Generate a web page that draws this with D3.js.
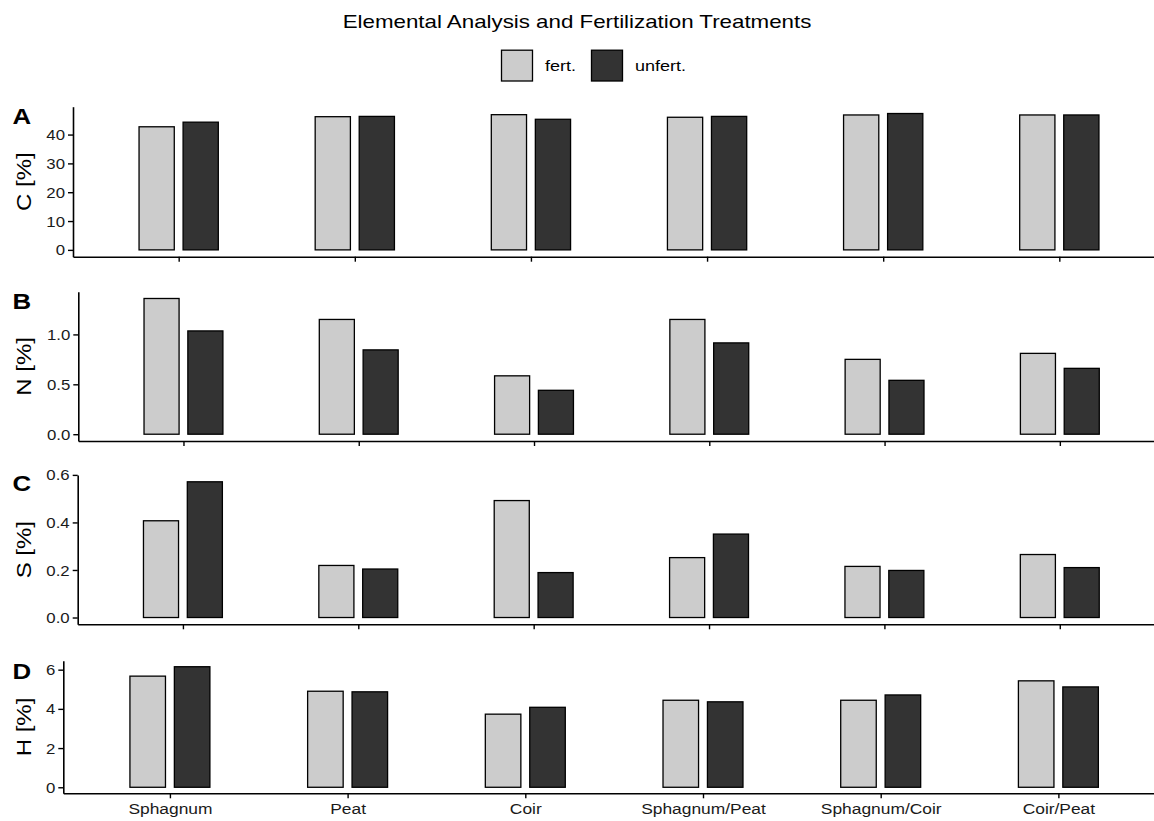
<!DOCTYPE html>
<html>
<head>
<meta charset="utf-8">
<script src="https://cdn.jsdelivr.net/npm/d3@7"></script>
<style>
  html, body { margin: 0; padding: 0; background: #fff; }
  svg { display: block; font-family: "Liberation Sans", Arial, Helvetica, sans-serif; }
</style>
</head>
<body>
<svg id="chart" width="1154" height="821"></svg>
<script>
// ---- data ----
const categories = ["Sphagnum", "Peat", "Coir", "Sphagnum/Peat", "Sphagnum/Coir", "Coir/Peat"];
const treatments = ["fert.", "unfert."];

const carbonFert     = [42.7, 46.2, 46.9, 46.0, 46.8, 46.8];
const carbonUnfert   = [44.3, 46.3, 45.3, 46.3, 47.3, 46.8];
const nitrogenFert   = [1.36, 1.15, 0.585, 1.15, 0.75, 0.81];
const nitrogenUnfert = [1.035, 0.845, 0.44, 0.915, 0.54, 0.66];
const sulfurFert     = [0.407, 0.219, 0.492, 0.252, 0.215, 0.265];
const sulfurUnfert   = [0.571, 0.204, 0.189, 0.351, 0.198, 0.21];
const hydrogenFert   = [5.67, 4.90, 3.73, 4.44, 4.44, 5.43];
const hydrogenUnfert = [6.15, 4.87, 4.08, 4.36, 4.71, 5.12];

const carbonTicks   = [0, 10, 20, 30, 40];
const nitrogenTicks = [0, 0.5, 1.0];
const sulfurTicks   = [0, 0.2, 0.4, 0.6];
const hydrogenTicks = [0, 2, 4, 6];

const chartTitle = "Elemental Analysis and Fertilization Treatments";

// ---- styling / layout ----
const fillColors = { "fert.": "#cccccc", "unfert.": "#333333" };
const SX = 1.2;           // text in the reference is wider than Liberation Sans
const RIGHT = 1165;
const panels = [
  { letter: "A", title: "C [%]", fert: carbonFert,   unfert: carbonUnfert,   ticks: carbonTicks,   fmt: d3.format("d"),   top: 106.7, bottom: 256.7, axisX: 73,   letterY: 123.5, xLabels: false },
  { letter: "B", title: "N [%]", fert: nitrogenFert, unfert: nitrogenUnfert, ticks: nitrogenTicks, fmt: d3.format(".1f"), top: 291.7, bottom: 441,   axisX: 78.3, letterY: 308.5, xLabels: false },
  { letter: "C", title: "S [%]", fert: sulfurFert,   unfert: sulfurUnfert,   ticks: sulfurTicks,   fmt: d3.format(".1f"), top: 475,   bottom: 624.3, axisX: 77.7, letterY: 491,   xLabels: false },
  { letter: "D", title: "H [%]", fert: hydrogenFert, unfert: hydrogenUnfert, ticks: hydrogenTicks, fmt: d3.format("d"),   top: 660.7, bottom: 793.3, axisX: 63.3, letterY: 678.5, xLabels: true }
];

const svg = d3.select("#chart");

// title
svg.append("text")
  .attr("transform", `translate(577,28.3) scale(${SX},1)`)
  .attr("text-anchor", "middle")
  .attr("font-size", 18.6)
  .attr("fill", "#000")
  .text(chartTitle);

// legend
const legendItems = [
  { key: treatments[0], boxX: 501.5, textX: 545 },
  { key: treatments[1], boxX: 591.5, textX: 635 }
];
const lg = svg.append("g");
legendItems.forEach(it => {
  lg.append("rect")
    .attr("x", it.boxX).attr("y", 50.2)
    .attr("width", 31).attr("height", 30.8)
    .attr("fill", fillColors[it.key])
    .attr("stroke", "#000").attr("stroke-width", 1.3);
  lg.append("text")
    .attr("transform", `translate(${it.textX},71.3) scale(${SX},1)`)
    .attr("font-size", 15)
    .attr("fill", "#000")
    .text(it.key);
});

panels.forEach(p => {
  const g = svg.append("g");
  const maxV = d3.max(p.fert.concat(p.unfert));
  const y = d3.scaleLinear().domain([-0.05 * maxV, 1.05 * maxV]).range([p.bottom, p.top]);
  const x = d3.scalePoint().domain(categories).range([p.axisX, RIGHT]).padding(0.6);
  const step = x.step();
  const bw = 0.2 * step, off = 0.125 * step;

  const rows = [];
  categories.forEach((c, i) => {
    rows.push({ cat: c, tr: treatments[0], v: p.fert[i], dx: -off });
    rows.push({ cat: c, tr: treatments[1], v: p.unfert[i], dx: off });
  });

  g.selectAll("rect.bar").data(rows).join("rect")
    .attr("class", "bar")
    .attr("x", d => x(d.cat) + d.dx - bw / 2)
    .attr("width", bw)
    .attr("y", d => y(d.v))
    .attr("height", d => y(0) - y(d.v))
    .attr("fill", d => fillColors[d.tr])
    .attr("stroke", "#000")
    .attr("stroke-width", 1.3);

  // y axis
  const ya = g.append("g")
    .attr("transform", `translate(${p.axisX},0)`)
    .call(d3.axisLeft(y).tickValues(p.ticks).tickFormat(p.fmt).tickSize(5).tickSizeOuter(0).tickPadding(3));
  // x axis
  const xa = g.append("g")
    .attr("transform", `translate(0,${p.bottom})`)
    .call(d3.axisBottom(x).tickSize(5).tickSizeOuter(0).tickPadding(6));

  [ya, xa].forEach(a => {
    a.select(".domain").attr("stroke", "#000").attr("stroke-width", 1.6);
    a.selectAll(".tick line").attr("stroke", "#000").attr("stroke-width", 1.4);
  });

  ya.selectAll(".tick text")
    .attr("font-family", null)
    .attr("font-size", 14)
    .attr("fill", "#1a1a1a")
    .attr("dy", "0.36em")
    .attr("x", null)
    .attr("transform", `translate(-8,0) scale(${SX},1)`);

  if (p.xLabels) {
    xa.selectAll(".tick text")
      .attr("font-family", null)
      .attr("font-size", 14.5)
      .attr("fill", "#1a1a1a")
      .attr("y", null).attr("dy", null)
      .attr("transform", `translate(0,21) scale(${SX},1)`);
  } else {
    xa.selectAll(".tick text").remove();
  }

  // y title (stretched along its reading direction)
  g.append("text")
    .attr("transform", `translate(24,${(p.top + p.bottom) / 2}) rotate(-90) scale(${SX},1)`)
    .attr("text-anchor", "middle")
    .attr("dy", "0.36em")
    .attr("font-size", 20)
    .attr("fill", "#000")
    .text(p.title);

  // panel letter
  g.append("text")
    .attr("transform", `translate(12.5,${p.letterY}) scale(${SX},1)`)
    .attr("font-size", 21.5)
    .attr("font-weight", "bold")
    .attr("fill", "#000")
    .text(p.letter);
});
</script>
</body>
</html>
